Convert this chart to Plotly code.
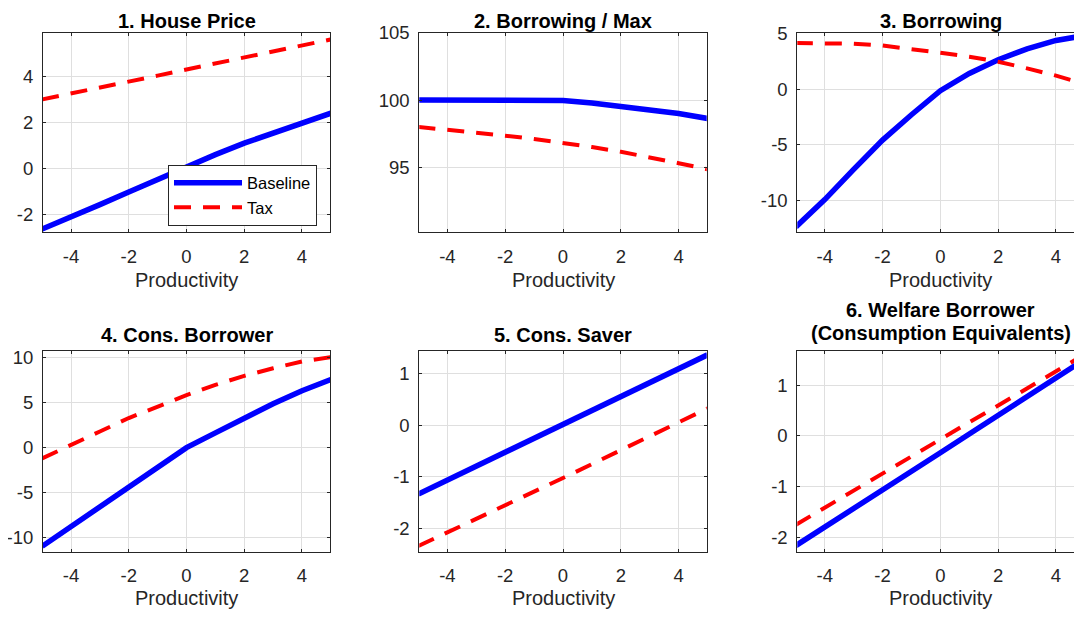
import plotly.graph_objects as go

# ---------------- data ----------------
productivity = [-5, -4, -3, -2, -1, -0.3, 0, 1, 2, 3, 4, 5]

house_price_base = [-2.63, -2.12, -1.57, -1.02, -0.47, -0.08, 0.07, 0.60, 1.10, 1.55, 2.00, 2.40]
house_price_tax = [3.00, 3.25, 3.50, 3.76, 4.03, 4.22, 4.30, 4.55, 4.82, 5.08, 5.34, 5.60]

borrow_max_base = [100.0, 100.0, 100.0, 100.0, 100.0, 100.0, 99.97, 99.78, 99.55, 99.30, 99.00, 98.63]
borrow_max_tax = [98.00, 97.80, 97.58, 97.35, 97.10, 96.90, 96.82, 96.50, 96.15, 95.75, 95.30, 94.85]

borrowing_base = [-12.35, -9.90, -7.20, -4.57, -2.30, -0.75, -0.15, 1.40, 2.62, 3.60, 4.35, 4.80]
borrowing_tax = [4.12, 4.13, 4.06, 3.90, 3.60, 3.33, 3.25, 2.90, 2.45, 1.85, 1.20, 0.45]

cons_borrower_base = [-11.00, -8.80, -6.55, -4.30, -2.05, -0.50, 0.00, 1.65, 3.30, 4.90, 6.35, 7.60]
cons_borrower_tax = [-1.20, 0.25, 1.80, 3.30, 4.60, 5.50, 5.85, 7.00, 8.00, 8.85, 9.60, 10.10]

cons_saver_base = [-1.33, -1.06, -0.79, -0.52, -0.25, -0.06, 0.02, 0.29, 0.56, 0.83, 1.10, 1.37]
cons_saver_tax = [-2.34, -2.08, -1.81, -1.55, -1.28, -1.10, -1.02, -0.75, -0.48, -0.20, 0.07, 0.33]

welfare_base = [-2.16, -1.80, -1.43, -1.06, -0.70, -0.44, -0.33, 0.04, 0.40, 0.77, 1.14, 1.51]
welfare_tax = [-1.75, -1.41, -1.08, -0.74, -0.41, -0.17, -0.07, 0.27, 0.60, 0.94, 1.28, 1.61]

panel_titles = [["1. House Price"], ["2. Borrowing / Max"], ["3. Borrowing"],
                ["4. Cons. Borrower"], ["5. Cons. Saver"],
                ["6. Welfare Borrower", "(Consumption Equivalents)"]]
x_label = "Productivity"
series_names = ["Baseline", "Tax"]

x_ticks = [-4, -2, 0, 2, 4]
x_ticktext = ["-4", "-2", "0", "2", "4"]
y_ticks = [[-2, 0, 2, 4], [95, 100, 105], [-10, -5, 0, 5],
           [-10, -5, 0, 5, 10], [-2, -1, 0, 1], [-2, -1, 0, 1]]
y_ticktext = [["-2", "0", "2", "4"], ["95", "100", "105"], ["-10", "-5", "0", "5"],
              ["-10", "-5", "0", "5", "10"], ["-2", "-1", "0", "1"], ["-2", "-1", "0", "1"]]
y_ranges = [[-2.77, 5.88], [90.15, 105.0], [-12.83, 5.02],
            [-11.6, 10.81], [-2.45, 1.45], [-2.28, 1.68]]
x_ranges = [[-4.97, 4.97], [-4.97, 4.97], [-4.95, 4.97],
            [-4.97, 4.97], [-4.97, 4.97], [-4.95, 4.97]]

panels = [
    (house_price_base, house_price_tax),
    (borrow_max_base, borrow_max_tax),
    (borrowing_base, borrowing_tax),
    (cons_borrower_base, cons_borrower_tax),
    (cons_saver_base, cons_saver_tax),
    (welfare_base, welfare_tax),
]

# ---------------- layout geometry (page pixels; page body has an 8px margin) ----------------
W, H = 1082, 617
OFF = 8.0
col_px = [(43.0, 330.0), (419.3, 706.7), (797.3, 1084.0)]
col_center_px = [186.5, 563.0, 940.7]
row_px = [(33.0, 232.3), (350.7, 551.7)]
title_center_px = [20.5, 335.0]
title6_centers_px = [309.5, 333.0]
xlabel_center_px = [280.0, 598.0]


def px_x(p):
    return (p - OFF) / W


def px_y(p):
    return 1 - (p - OFF) / H


FONT = "Liberation Sans, Arial, Helvetica, sans-serif"
AX_COLOR = "#262626"
GRID_COLOR = "#dfdfdf"
BLUE = "#0000ff"
RED = "#ff0000"

fig = go.Figure()
annotations = []

for i, (base, tax) in enumerate(panels):
    r, c = divmod(i, 3)
    n = i + 1
    xa = "x" if n == 1 else f"x{n}"
    ya = "y" if n == 1 else f"y{n}"
    fig.add_trace(go.Scatter(x=productivity, y=base, mode="lines", name=series_names[0],
                             line=dict(color=BLUE, width=5.5), xaxis=xa, yaxis=ya,
                             showlegend=(i == 0), legendgroup="b"))
    fig.add_trace(go.Scatter(x=productivity, y=tax, mode="lines", name=series_names[1],
                             line=dict(color=RED, width=4, dash="17px,12px"), xaxis=xa, yaxis=ya,
                             showlegend=(i == 0), legendgroup="t"))

    x0, x1 = col_px[c]
    y0, y1 = row_px[r]
    xkey = "xaxis" if n == 1 else f"xaxis{n}"
    ykey = "yaxis" if n == 1 else f"yaxis{n}"
    fig.layout[xkey] = dict(
        domain=[px_x(x0), min(px_x(x1), 1.0)], anchor=ya, range=x_ranges[i],
        tickvals=x_ticks, ticktext=x_ticktext, ticks="inside", ticklen=3,
        tickcolor=AX_COLOR, showline=True, linecolor=AX_COLOR, linewidth=1,
        mirror="allticks", showgrid=True, gridcolor=GRID_COLOR, gridwidth=1,
        zeroline=False, tickfont=dict(family=FONT, size=18.5, color=AX_COLOR),
        ticklabelstandoff=7, fixedrange=True, automargin=False,
    )
    fig.layout[ykey] = dict(
        domain=[px_y(y1), px_y(y0)], anchor=xa, range=y_ranges[i],
        tickvals=y_ticks[i], ticktext=y_ticktext[i], ticks="inside", ticklen=3,
        tickcolor=AX_COLOR, showline=True, linecolor=AX_COLOR, linewidth=1,
        mirror="allticks", showgrid=True, gridcolor=GRID_COLOR,
        gridwidth=1, zeroline=False, tickfont=dict(family=FONT, size=18.5, color=AX_COLOR),
        ticklabelstandoff=5, fixedrange=True, automargin=False,
    )

    lines = panel_titles[i]
    centers = title6_centers_px if len(lines) == 2 else [title_center_px[r]]
    for text, ty in zip(lines, centers):
        annotations.append(dict(text=f"<b>{text}</b>", x=px_x(col_center_px[c]), y=px_y(ty),
                                xref="paper", yref="paper", xanchor="center", yanchor="middle",
                                showarrow=False, borderpad=0,
                                font=dict(family=FONT, size=20, color="#000000")))
    annotations.append(dict(text=x_label, x=px_x(col_center_px[c]), y=px_y(xlabel_center_px[r]),
                            xref="paper", yref="paper", xanchor="center", yanchor="middle",
                            showarrow=False, font=dict(family=FONT, size=20, color=AX_COLOR)))

fig.update_layout(
    width=W, height=H,
    margin=dict(l=0, r=0, t=0, b=0, autoexpand=False),
    paper_bgcolor="white", plot_bgcolor="white",
    annotations=annotations,
    showlegend=True,
    legend=dict(x=px_x(168), y=px_y(164.5), xanchor="left", yanchor="top",
                bgcolor="white", bordercolor=AX_COLOR, borderwidth=1,
                font=dict(family=FONT, size=16.5, color="#000000"),
                itemwidth=68, tracegroupgap=0),
)

fig.write_html("out.html")
